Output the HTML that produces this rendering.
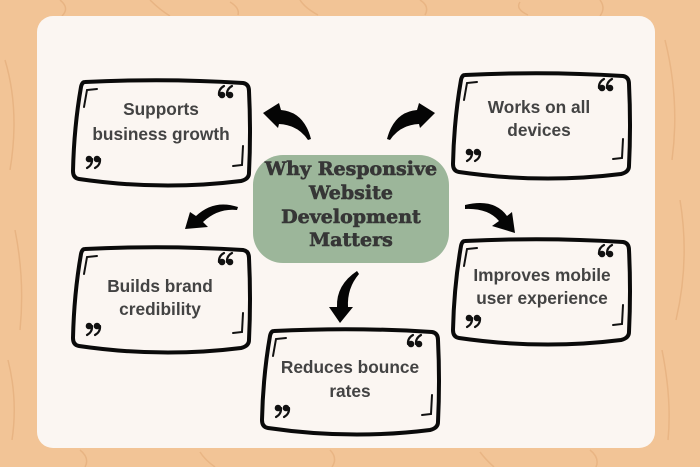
<!DOCTYPE html>
<html>
<head>
<meta charset="utf-8">
<style>
  html,body{margin:0;padding:0;}
  body{width:700px;height:467px;overflow:hidden;background:#f2c496;}
  svg{display:block;}
  .t{font-family:"Liberation Sans",sans-serif;font-weight:bold;font-size:17.3px;fill:#434343;text-anchor:middle;}
  .h{font-family:"DejaVu Serif","Liberation Serif",serif;font-weight:bold;font-size:19px;fill:#363636;stroke:#363636;stroke-width:0.6;text-anchor:middle;}
</style>
</head>
<body>
<svg width="700" height="467" viewBox="0 0 700 467" xmlns="http://www.w3.org/2000/svg">
  <defs>
    <g id="q6">
      <circle cx="0" cy="0" r="3.3" fill="#111"/>
      <path d="M-3,0 Q-3.5,-6 2,-9" fill="none" stroke="#111" stroke-width="2.2" stroke-linecap="round"/>
    </g>
    <g id="q9">
      <circle cx="0" cy="0" r="3.3" fill="#111"/>
      <path d="M3,0 Q3.5,6 -2,9" fill="none" stroke="#111" stroke-width="2.2" stroke-linecap="round"/>
    </g>
    <g id="box">
      <path d="M14,5 Q95,1 172,6 Q178,7 178,14 Q180,55 178,96 Q178,102 170,104 Q90,114 8,102 Q2,101 2,94 Q3,50 10,10 Q11,5 14,5 Z" fill="none" stroke="#0a0a0a" stroke-width="4" stroke-linejoin="round"/>
      <path d="M26,12 L16,13 L13,30" fill="none" stroke="#111" stroke-width="2" stroke-linecap="round"/>
      <path d="M172,69 L171,88 L162,89" fill="none" stroke="#111" stroke-width="2" stroke-linecap="round"/>
      <use href="#q6" x="151" y="18"/>
      <use href="#q6" x="159" y="18"/>
      <use href="#q9" x="18" y="82"/>
      <use href="#q9" x="26" y="82"/>
    </g>
  </defs>

  <!-- background streaks -->
  <rect width="700" height="467" fill="#f2c496"/>
  <g stroke="#e2ab78" stroke-width="1.5" fill="none" opacity="0.6">
    <path d="M60,0 Q70,8 62,16"/>
    <path d="M150,0 Q160,10 170,16"/>
    <path d="M230,2 Q240,8 238,15"/>
    <path d="M300,0 Q305,8 318,15"/>
    <path d="M420,0 Q430,6 425,15"/>
    <path d="M520,2 Q515,9 528,15"/>
    <path d="M600,0 Q606,8 600,16"/>
    <path d="M5,60 Q20,110 10,170"/>
    <path d="M15,230 Q25,280 20,330"/>
    <path d="M8,360 Q18,400 12,440"/>
    <path d="M665,40 Q680,100 672,160"/>
    <path d="M680,200 Q690,260 676,320"/>
    <path d="M662,350 Q672,400 668,440"/>
    <path d="M80,450 Q90,458 85,467"/>
    <path d="M200,452 Q205,460 215,467"/>
    <path d="M330,450 Q338,458 332,467"/>
    <path d="M480,452 Q486,460 494,467"/>
    <path d="M590,450 Q600,458 596,467"/>
  </g>

  <!-- card -->
  <rect x="37" y="16" width="618" height="432" rx="16" ry="16" fill="#fbf6f2"/>

  <!-- center node -->
  <rect x="253" y="155" width="196" height="108" rx="30" ry="30" fill="#9cb69a"/>
  <text class="h" x="351" y="175">Why Responsive</text>
  <text class="h" x="351" y="199">Website</text>
  <text class="h" x="351" y="223">Development</text>
  <text class="h" x="351" y="246">Matters</text>

  <!-- boxes -->
  <use href="#box" transform="translate(71,77)"/>
  <use href="#box" transform="translate(451,70)"/>
  <use href="#box" transform="translate(71,244)"/>
  <use href="#box" transform="translate(451,236)"/>
  <use href="#box" transform="translate(260,326)"/>

  <!-- box texts -->
  <text class="t" x="161" y="115">Supports</text>
  <text class="t" x="161" y="140">business growth</text>

  <text class="t" x="539" y="113">Works on all</text>
  <text class="t" x="539" y="136">devices</text>

  <text class="t" x="160" y="292">Builds brand</text>
  <text class="t" x="160" y="315">credibility</text>

  <text class="t" x="542" y="281">Improves mobile</text>
  <text class="t" x="542" y="304">user experience</text>

  <text class="t" x="350" y="373">Reduces bounce</text>
  <text class="t" x="350" y="397">rates</text>

  <!-- arrows -->
  <g fill="#050505">
    <path d="M263,113 L279,103 L281,110 Q304,112 311,139 L308,140 Q298,125 279,124 L278,128 Z"/>
    <path d="M435,113 L419,103 L417,110 Q394,112 387,139 L390,140 Q400,125 419,124 L420,128 Z"/>
    <path d="M185,229 L190,212 L196,216 Q214,199 238,207 L237,210 Q218,208 203,222 L208,227 Z"/>
    <path d="M515,233 L492,226 L499,221 Q488,208 465,209 L465,205 Q494,198 507,216 L512,212 Z"/>
    <path d="M340,323 L329,307 L337,307 Q336,285 357,271 L359,274 Q347,288 348,307 L353,307 Z"/>
  </g>
</svg>
</body>
</html>
